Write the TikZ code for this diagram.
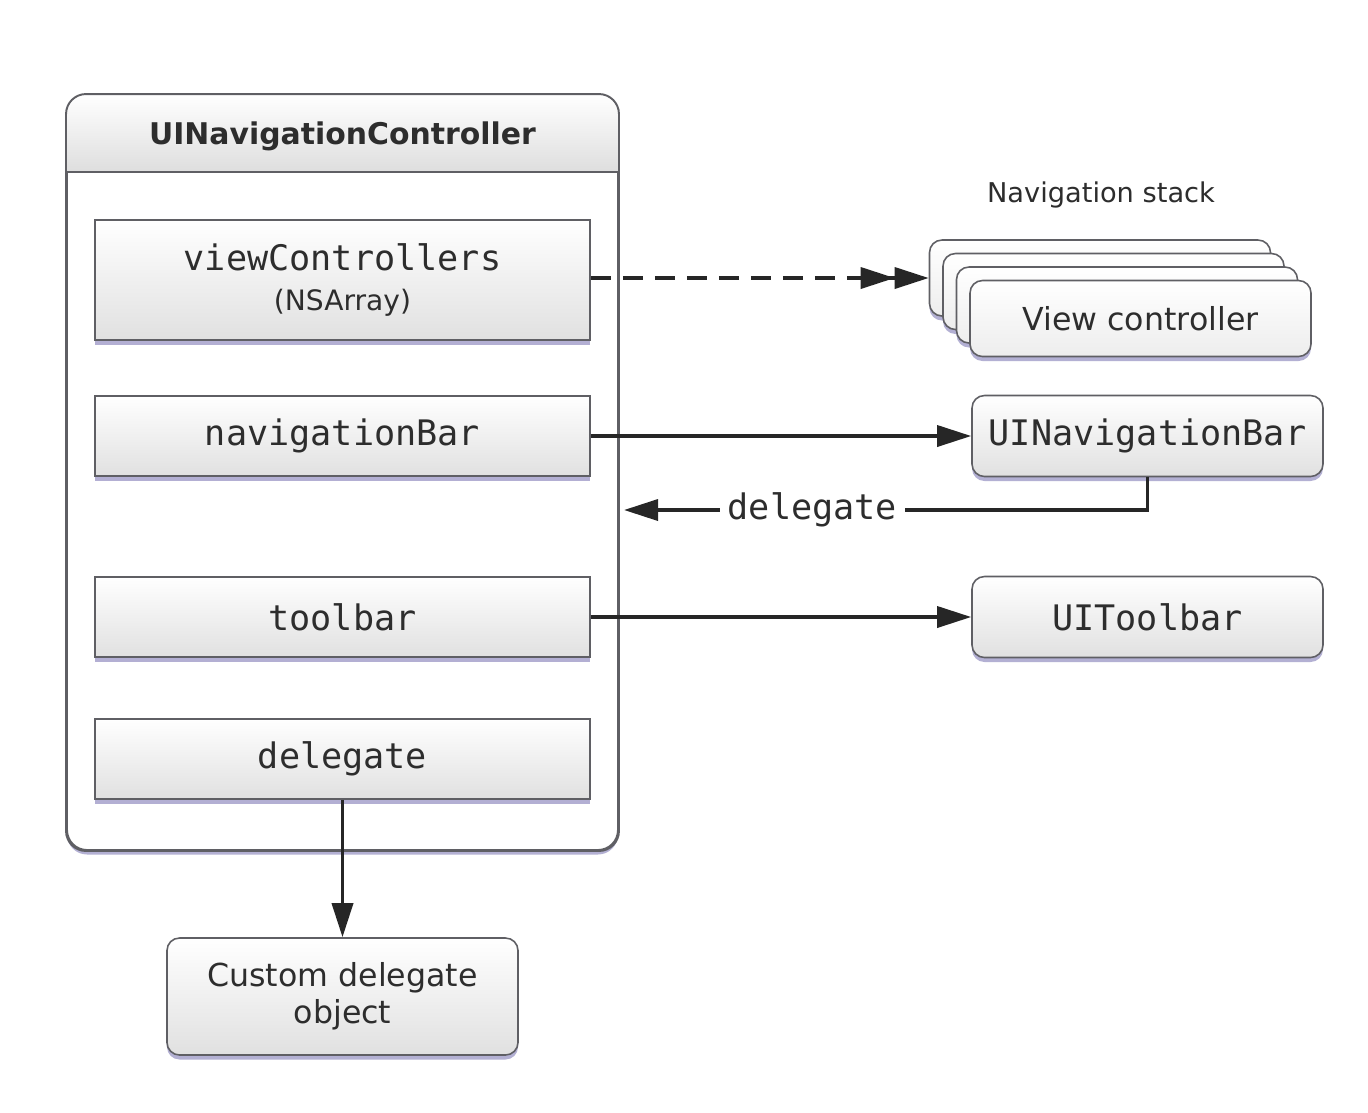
\documentclass[tikz,border=0pt]{standalone}
\usepackage{fontspec}
\setmainfont{DejaVu Sans}
\setmonofont{DejaVu Sans Mono}
\usepackage{xcolor}
\usetikzlibrary{arrows.meta,positioning,shadows}
\definecolor{edgegray}{RGB}{95,95,100}
\definecolor{shadowblue}{RGB}{160,156,200}
\definecolor{textgray}{RGB}{45,45,45}

\begin{document}
\begin{tikzpicture}[x=0.2mm, y=-0.2mm,
        container/.style={rectangle, rounded corners=4mm, draw=edgegray, line width=1.1pt, fill=white, minimum width=110.2mm, minimum height=151mm, drop shadow={shadow xshift=0mm, shadow yshift=-0.9mm, fill=shadowblue, opacity=0.8}},
        propbox/.style={rectangle, draw=edgegray, line width=0.9pt, top color=white, bottom color=gray!24, minimum width=99mm, minimum height=16mm, align=center, text=textgray, font=\fontsize{20}{22}\selectfont\ttfamily, drop shadow={shadow xshift=0mm, shadow yshift=-0.9mm, fill=shadowblue, opacity=0.8}},
        objbox/.style={rectangle, rounded corners=2.5mm, draw=edgegray, line width=0.9pt, top color=white, bottom color=gray!24, minimum width=70.2mm, minimum height=16.2mm, align=center, text=textgray, font=\fontsize{20}{22}\selectfont\ttfamily, drop shadow={shadow xshift=0mm, shadow yshift=-0.9mm, fill=shadowblue, opacity=0.8}},
        cardbox/.style={rectangle, rounded corners=2.5mm, draw=edgegray, line width=0.9pt, top color=white, bottom color=gray!14, minimum width=68.2mm, minimum height=15.2mm, text=textgray, font=\fontsize{18}{20}\selectfont, drop shadow={shadow xshift=0mm, shadow yshift=-0.9mm, fill=shadowblue, opacity=0.8}},
        arr/.style={-{Triangle[length=6.8mm, width=4.2mm]}, line width=2pt, black!85},
        dasharr/.style={-{Triangle[length=6.8mm, width=4.2mm]Triangle[length=6.8mm, width=4.2mm]}, line width=2pt, black!85, dash pattern=on 4mm off 2.4mm},
    ]
        \useasboundingbox (0,0) rectangle (1368,1112);

        % Container with header band
        \node[container] (nav) at (342.5,472.5) {};
        \begin{scope}
            \clip[rounded corners=4mm] (nav.north west) rectangle (nav.south east);
            \fill[top color=white, bottom color=gray!26] (nav.north west) rectangle ([yshift=-15.6mm]nav.north east);
        \end{scope}
        \draw[edgegray, line width=0.9pt] ([yshift=-15.6mm]nav.north west) -- ([yshift=-15.6mm]nav.north east);
        \draw[edgegray, line width=1.1pt, rounded corners=4mm] (nav.north west) rectangle (nav.south east);
        \node[text=textgray, font=\fontsize{17}{20}\selectfont\bfseries] (navtitle) at (342.5,136) {UINavigationController};

        % Properties
        \node[propbox, minimum height=24mm] (vc) at (342.5,280) {viewControllers\\[0.4mm]{\rmfamily\fontsize{16}{18}\selectfont (NSArray)}};
        \node[propbox] (navbar) at (342.5,436) {navigationBar};
        \node[propbox] (toolbar) at (342.5,617) {toolbar};
        \node[propbox] (dlg) at (342.5,759) {delegate};

        % Navigation stack
        \node[text=textgray, font=\fontsize{15.5}{18}\selectfont] (stacklabel) at (1101,195) {Navigation stack};
        \foreach \i in {0,1,2} {
            \node[cardbox] (card\i) at ({1100+13.5*\i},{278+13.5*\i}) {};
        }
        \node[cardbox] (card3) at (1140.5,318.5) {View controller};

        % Objects
        \node[objbox] (uinavbar) at (1147.5,436) {UINavigationBar};
        \node[objbox] (uitoolbar) at (1147.5,617) {UIToolbar};
        \node[objbox, minimum height=23.4mm, font=\fontsize{18}{21}\selectfont] (custom) at (342.5,996.5) {Custom delegate\\object};

        % Connectors
        \coordinate (ret) at (624,510);
        \draw[dasharr] (vc.east |- card0.west) -- (card0.west);
        \draw[arr] (navbar.east) -- (uinavbar.west);
        \draw[arr] (toolbar.east) -- (uitoolbar.west);
        \draw[arr] (uinavbar.south) |- node[pos=0.82, fill=white, inner sep=1.5mm, text=textgray, font=\fontsize{20}{22}\selectfont\ttfamily] (dlglabel) {delegate} (ret);
        \draw[arr] (dlg.south) -- (custom.north);
    \end{tikzpicture}
\end{document}
